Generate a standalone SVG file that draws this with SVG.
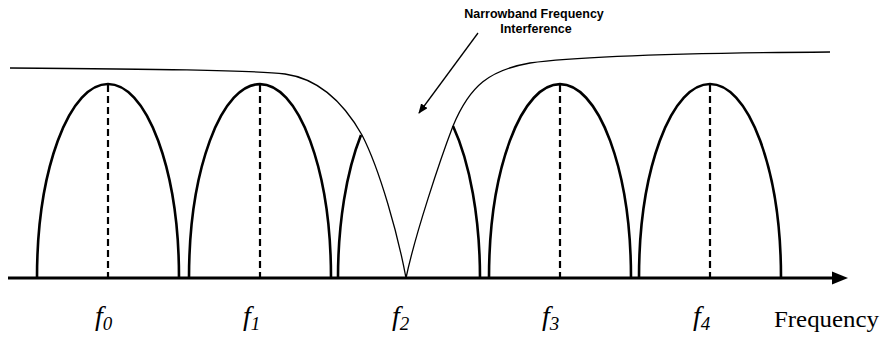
<svg xmlns="http://www.w3.org/2000/svg" width="886" height="338" viewBox="0 0 886 338">
<defs>
<style>
.lobe{fill:none;stroke:#000;stroke-width:2.6}
.dash{stroke:#000;stroke-width:2.2;stroke-dasharray:7 4}
.thin{fill:none;stroke:#000;stroke-width:1.3}
.lbl{font-family:"Liberation Serif","Times New Roman",serif;font-style:italic;font-size:28px;fill:#000}
.sub{font-size:19px}
.note{font-family:"Liberation Sans",Arial,sans-serif;font-weight:bold;font-size:12.5px;fill:#000}
</style>
<marker id="ah" markerWidth="10" markerHeight="8" refX="9" refY="4" orient="auto" markerUnits="userSpaceOnUse">
<path d="M0,0 L10,4 L0,8 Z" fill="#000"/>
</marker>
</defs>
<rect width="886" height="338" fill="#fff"/>
<g id="axis">
<line x1="8" y1="278" x2="834" y2="278" stroke="#000" stroke-width="3"/>
<path d="M832,271.5 L848,278 L832,284.5 Z" fill="#000"/>
<text x="774" y="327" font-family="'Liberation Serif','Times New Roman',serif" font-size="23" textLength="105" lengthAdjust="spacingAndGlyphs">Frequency</text>
</g>
<g id="f0">
<path class="lobe" d="M37,278 A71,194 0 0 1 179,278"/>
<line class="dash" x1="108" y1="85" x2="108" y2="278"/>
<text class="lbl" x="95" y="325">f<tspan class="sub" dy="5">0</tspan></text>
</g>
<g id="f1">
<path class="lobe" d="M189,278 A71,194 0 0 1 331,278"/>
<line class="dash" x1="260" y1="85" x2="260" y2="278"/>
<text class="lbl" x="243" y="325">f<tspan class="sub" dy="5">1</tspan></text>
</g>
<g id="f2">
<path class="lobe" d="M338,278 A71,194 0 0 1 361,135"/>
<path class="lobe" d="M453,126 A71,194 0 0 1 480,278"/>
<text class="lbl" x="392" y="325">f<tspan class="sub" dy="5">2</tspan></text>
</g>
<g id="f3">
<path class="lobe" d="M489,278 A71,194 0 0 1 631,278"/>
<line class="dash" x1="560" y1="85" x2="560" y2="278"/>
<text class="lbl" x="542" y="325">f<tspan class="sub" dy="5">3</tspan></text>
</g>
<g id="f4">
<path class="lobe" d="M639,278 A71,194 0 0 1 781,278"/>
<line class="dash" x1="710" y1="85" x2="710" y2="278"/>
<text class="lbl" x="693" y="325">f<tspan class="sub" dy="5">4</tspan></text>
</g>
<g id="interference">
<path class="thin" d="M10,68 C150,69 250,70 285,74 C320,79 345,105 362,135 C380,170 398,235 406,278 C415,235 440,160 453,126 C470,85 490,70 530,63 C580,56 680,53 830,52"/>
<text class="note" x="534" y="18" text-anchor="middle">Narrowband Frequency</text>
<text class="note" x="536" y="33" text-anchor="middle">Interference</text>
</g>
<g id="connectors">
<line x1="478" y1="33" x2="419" y2="113" stroke="#000" stroke-width="1.3" marker-end="url(#ah)"/>
</g>
</svg>
